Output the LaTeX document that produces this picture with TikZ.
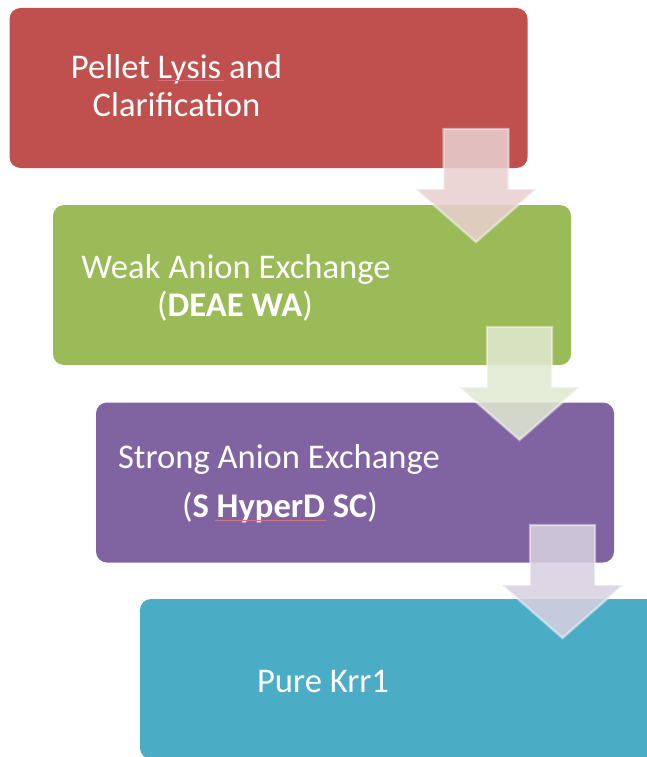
\documentclass[tikz,border=0pt]{standalone}
\usepackage{fontspec}
\setmainfont{Carlito}
\definecolor{stepred}{HTML}{C0504D}
\definecolor{stepgreen}{HTML}{9BBB59}
\definecolor{steppurple}{HTML}{8064A2}
\definecolor{stepcyan}{HTML}{4BACC6}
\definecolor{tintred}{RGB}{232,207,207}
\definecolor{tintgreen}{RGB}{224,232,208}
\definecolor{tintpurple}{RGB}{215,208,225}
\definecolor{spellred}{HTML}{D9717A}
\tikzset{
  stagebox/.style={rectangle, rounded corners=11pt, draw=none,
    minimum width=518pt, minimum height=160pt, inner sep=0pt},
  stagetext/.style={anchor=base, text=white, inner sep=0pt,
    font=\fontsize{34.6}{38}\selectfont},
  spellmark/.style={draw=spellred, line width=0.8pt},
  pics/flowarrow/.style={code={
    \path[fill=#1, fill opacity=0.87, draw=white, draw opacity=0.45,
          line width=2.4pt, line join=miter]
      (-32.5,-113) -- (32.5,-113) -- (32.5,-53) -- (60.5,-53)
      -- (0,0) -- (-60.5,-53) -- (-32.5,-53) -- cycle;
  }}
}
\begin{document}
\begin{tikzpicture}[x=1pt,y=-1pt]
\useasboundingbox (0,0) rectangle (647,757);
\begin{scope}
\clip (0,0) rectangle (647,757);
% stage boxes
\node[stagebox, fill=stepred]    (b1) at (268.5,88)  {};
\node[stagebox, fill=stepgreen]  (b2) at (312,285)   {};
\node[stagebox, fill=steppurple] (b3) at (355,482.5) {};
\node[stagebox, fill=stepcyan]   (b4) at (399,679)   {};
% translucent down arrows between stages
\pic at (476,242)   {flowarrow=tintred};
\pic at (519.5,440) {flowarrow=tintgreen};
\pic at (562.5,638) {flowarrow=tintpurple};
\end{scope}
% labels
\node[stagetext] (t1a) at (176.5,79)  {Pellet Lysis and};
\node[stagetext] (t1b) at (176.5,117) {Clarification};
\node[stagetext] (t2a) at (236,278)   {Weak Anion Exchange};
\node[stagetext] (t2b) at (235,316)   {(\textbf{DEAE WA})};
\node[stagetext] (t3a) at (279,468)   {Strong Anion Exchange};
\node[stagetext] (t3b) at (280,517)   {(\textbf{S HyperD SC})};
\node[stagetext] (t4)  at (323,692)   {Pure Krr1};
% spell-check underlines
\draw[spellmark] (158,80.5) -- (224,80.5);
\draw[spellmark] (215,520.5) -- (326,520.5);
\end{tikzpicture}
\end{document}
